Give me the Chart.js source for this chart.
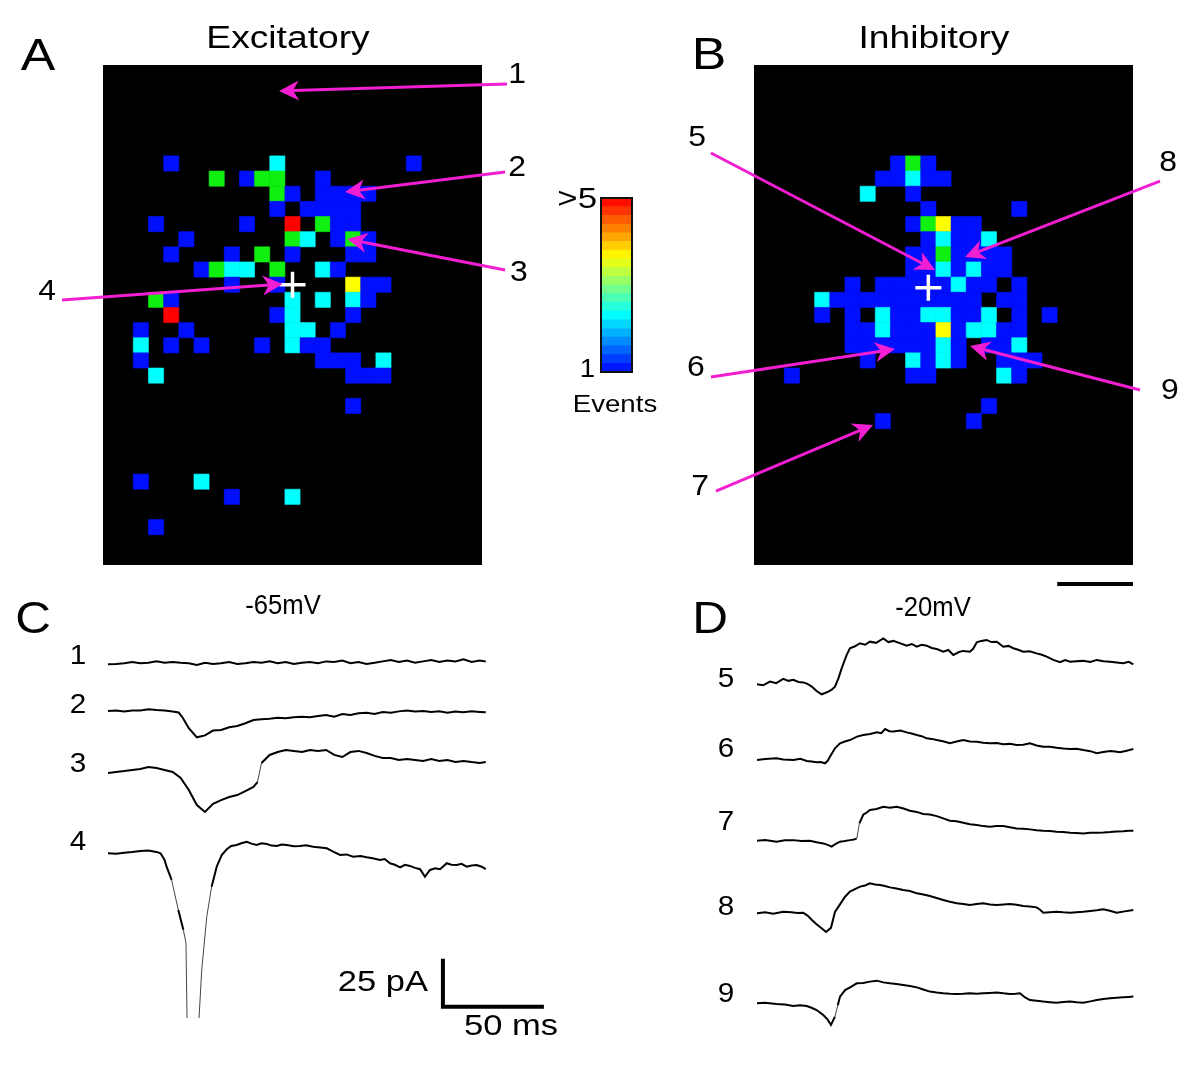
<!DOCTYPE html>
<html>
<head>
<meta charset="utf-8">
<script src="https://cdn.jsdelivr.net/npm/chart.js"></script>
<style>
    body { margin: 0; background: #fff; }
    #page { position: relative; width: 1200px; height: 1074px; overflow: hidden; }
    #page canvas { position: absolute; left: 0; top: 0; }
</style>
</head>
<body>
<div id="page">
    <canvas id="mapA" width="1200" height="1074"></canvas>
    <canvas id="mapB" width="1200" height="1074"></canvas>
    <canvas id="colorbar" width="1200" height="1074"></canvas>
    <canvas id="tracesC" width="1200" height="1074"></canvas>
    <canvas id="tracesD" width="1200" height="1074"></canvas>
</div>
<script>
// ---- Map data: [column, row, events] on a 25 x 33 grid ----
const excitatoryCells = [
    [4,6,1],[11,6,2],[20,6,1],
    [7,7,3],[9,7,1],[10,7,3],[11,7,3],[14,7,1],
    [11,8,3],[12,8,1],[14,8,1],[15,8,1],[16,8,1],[17,8,1],
    [11,9,1],[13,9,1],[14,9,1],[15,9,1],[16,9,1],
    [3,10,1],[9,10,1],[12,10,5],[14,10,3],[15,10,1],[16,10,1],
    [5,11,1],[12,11,3],[13,11,2],[15,11,1],[16,11,3],[17,11,1],
    [4,12,1],[8,12,1],[10,12,3],[12,12,1],[16,12,1],[17,12,1],
    [6,13,1],[7,13,3],[8,13,2],[9,13,2],[11,13,3],[14,13,2],[15,13,1],
    [8,14,1],[11,14,1],[16,14,4],[17,14,1],[18,14,1],
    [3,15,3],[4,15,1],[12,15,2],[14,15,2],[16,15,2],[17,15,1],
    [4,16,5],[11,16,1],[12,16,2],[16,16,1],
    [2,17,1],[5,17,1],[12,17,2],[13,17,2],[15,17,1],
    [2,18,2],[4,18,1],[6,18,1],[10,18,1],[12,18,2],[13,18,1],[14,18,1],
    [2,19,1],[14,19,1],[15,19,1],[16,19,1],[18,19,2],
    [3,20,2],[16,20,1],[17,20,1],[18,20,1],
    [16,22,1],
    [2,27,1],[6,27,2],
    [8,28,1],[12,28,2],
    [3,30,1]
];

const inhibitoryCells = [
    [9,6,1],[10,6,3],[11,6,1],
    [8,7,1],[9,7,1],[10,7,2],[11,7,1],[12,7,1],
    [7,8,2],[10,8,1],
    [11,9,1],[17,9,1],
    [10,10,1],[11,10,3],[12,10,4],[13,10,1],[14,10,1],
    [11,11,1],[12,11,2],[13,11,1],[14,11,1],[15,11,2],
    [10,12,1],[11,12,1],[12,12,3],[13,12,1],[14,12,1],[15,12,1],[16,12,1],
    [10,13,1],[11,13,1],[12,13,2],[13,13,1],[14,13,2],[15,13,1],[16,13,1],
    [6,14,1],[8,14,1],[9,14,1],[10,14,1],[11,14,1],[12,14,1],[13,14,2],[14,14,1],[15,14,1],[17,14,1],
    [4,15,2],[5,15,1],[6,15,1],[7,15,1],[8,15,1],[9,15,1],[10,15,1],[11,15,1],[12,15,1],[13,15,1],[14,15,1],[16,15,1],[17,15,1],
    [4,16,1],[6,16,1],[8,16,2],[9,16,1],[10,16,1],[11,16,2],[12,16,2],[13,16,1],[14,16,1],[15,16,2],[17,16,1],[19,16,1],
    [6,17,1],[7,17,1],[8,17,2],[9,17,1],[10,17,1],[11,17,1],[12,17,4],[13,17,1],[14,17,2],[15,17,2],[16,17,1],[17,17,1],
    [6,18,1],[7,18,1],[8,18,1],[9,18,1],[10,18,1],[11,18,1],[12,18,2],[13,18,1],[15,18,1],[16,18,1],[17,18,2],
    [7,19,1],[10,19,2],[11,19,1],[12,19,2],[13,19,1],[16,19,1],[17,19,1],[18,19,1],
    [2,20,1],[10,20,1],[11,20,1],[16,20,2],[17,20,1],
    [15,22,1],
    [8,23,1],[14,23,1]
];

// stimulation site (grid units)
const excitatoryCross = [12.5, 14.5];
const inhibitoryCross = [11.5, 14.7];

// arrows: [tailX, tailY, tipX, tipY, label, labelX, labelY] in grid units
const excitatoryArrows = [
    [26.65, 1.25, 11.61, 1.72, '1', 27.31, 0.66],
    [26.52, 7.06, 15.96, 8.38, '2', 27.31, 6.8],
    [26.52, 13.53, 16.11, 11.49, '3', 27.44, 13.73],
    [-2.70, 15.51, 11.85, 14.46, '4', -3.69, 14.98]
];
const inhibitoryArrows = [
    [-2.84, 5.81, 11.94, 13.53, '5', -3.76, 4.82],
    [26.78, 7.66, 13.92, 12.67, '8', 27.31, 6.47],
    [-2.84, 20.59, 9.30, 18.75, '6', -3.83, 20.0],
    [25.46, 21.45, 14.25, 18.55, '9', 27.44, 21.52],
    [-2.51, 28.12, 7.85, 23.76, '7', -3.56, 27.85]
];

// ---- Current traces: [time ms, current pA] ----
const trace1 = [[0,-0.5],[4,-0.3],[8,0],[12,0.7],[16,0],[20,0.3],[24,1.0],[28,0.3],[32,0.7],[36,0.3],[40,0],[44,-0.9],[48,0.3],[52,-0.3],[56,0],[60,0.7],[64,-0.3],[68,0],[72,0.7],[76,0.3],[80,1.0],[84,0],[88,0.7],[92,-0.3],[96,0.3],[100,0.7],[104,0],[108,1.0],[112,0.7],[116,1.4],[120,0],[124,0.7],[128,-0.3],[132,0.3],[136,1.0],[140,1.7],[144,0.7],[148,1.4],[152,0.3],[156,1.0],[160,1.7],[164,0.7],[168,1.4],[172,1.0],[176,2.1],[180,0.7],[184,1.4],[187,1.0]];
const trace2 = [[0,0],[4,0.2],[8,-0.2],[12,0.3],[16,0.2],[20,0.9],[24,0.5],[28,0.2],[32,-0.3],[35,-0.8],[37,-3.5],[40,-9.0],[44,-13.7],[48,-12.7],[52,-10.2],[56,-9.9],[60,-8.5],[64,-7.8],[68,-6.4],[72,-4.7],[76,-4.3],[80,-4.0],[84,-3.5],[88,-3.8],[92,-3.3],[96,-3.0],[100,-3.3],[104,-2.6],[108,-2.1],[112,-3.0],[116,-1.6],[120,-2.1],[124,-1.2],[128,-0.9],[132,-1.6],[136,-0.5],[140,-0.9],[144,-0.2],[148,0.2],[152,-0.3],[156,0],[160,-0.5],[164,-0.2],[168,-0.9],[172,-0.3],[176,-0.7],[180,-0.2],[184,-0.5],[187,-0.7]];
const trace3 = [[0,0],[4,0.5],[8,1.0],[12,1.6],[16,2.1],[20,3.1],[24,2.6],[28,1.6],[32,0.5],[36,-2.6],[40,-8.9],[44,-16.7],[48,-20.3],[52,-16.1],[56,-14.1],[60,-12.5],[64,-11.5],[68,-9.4],[72,-7.3],[74,-4.7],[76,5.2],[80,9.4],[84,10.9],[88,12.0],[92,11.5],[96,10.9],[100,12.0],[104,11.5],[108,12.0],[112,9.4],[116,8.3],[120,10.9],[124,11.5],[128,10.4],[132,8.9],[136,7.8],[140,7.8],[144,6.8],[148,7.3],[152,6.8],[156,6.3],[160,7.3],[164,6.3],[168,6.8],[172,5.7],[176,6.3],[180,5.7],[184,5.2],[187,5.7]];
const trace4 = [[0,0],[4,-0.3],[8,0.3],[12,0.7],[16,1.2],[20,1.4],[24,0.7],[26,0],[28,-3.5],[29,-7.0],[31.5,-13.9],[34.8,-29.5],[37.3,-39.9],[38.6,-46.7],[42,-300],[45,-87],[46.4,-60.8],[48.9,-33.0],[51.3,-17.4],[53.8,-7.0],[56.3,-0.9],[58.8,2.1],[61,3.8],[63.7,4.3],[66,5.2],[68.7,6.0],[71,5.0],[73.6,4.3],[76,5.2],[78.6,4.8],[81,4.0],[83.5,3.8],[86,4.6],[88.5,4.3],[92,3.6],[95,3.8],[98,4.2],[101.6,3.4],[105,3.0],[108.3,2.6],[111.5,0.8],[114.9,-0.9],[118,-0.6],[121.4,-1.8],[125,-1.4],[128,-2.1],[131,-2.6],[134.7,-3.5],[137,-3.0],[139.6,-5.2],[142,-6.0],[144.6,-7.3],[147,-6.0],[149.5,-6.6],[152,-7.6],[154.5,-8.3],[156.9,-12.2],[159.4,-8.7],[162,-7.8],[164.4,-8.3],[167.7,-5.2],[170,-6.0],[172.6,-6.1],[175,-5.5],[177.6,-7.0],[180,-6.4],[182.5,-6.1],[185,-7.0],[187,-8.3]];

const trace5 = [[0,0],[3,-0.5],[6.4,1.4],[9.5,0.6],[13,2.8],[15.5,1.8],[18,2.3],[20.5,1.2],[22.9,1.0],[25,0.2],[27.1,-1.2],[29.5,-3.5],[32,-5.2],[34,-4.4],[35.3,-3.8],[37,-2.8],[38.6,-1.2],[40.3,3.1],[41.9,8.3],[44.4,15.3],[46,18.8],[48.5,19.8],[51,21.4],[53.5,20.6],[55.9,22.2],[59,21.6],[62.5,23.9],[65,22.0],[67.5,22.6],[71,21.3],[74.1,20.1],[76.6,21.0],[79.1,19.6],[81.5,20.6],[84,20.1],[86.5,18.9],[89,18.4],[92.2,17.0],[94.7,17.9],[97.2,15.3],[100,16.8],[102,17.4],[105.4,17.0],[107,18.5],[108.8,21.9],[111,22.6],[113.7,23.1],[116,22.0],[118.7,22.2],[121.9,19.6],[124.5,20.0],[126.9,18.8],[129.3,18.0],[131.8,17.0],[135,17.2],[138.4,16.1],[141,15.4],[143.4,14.4],[146.7,12.7],[150,11.5],[152.5,12.6],[155,11.8],[158,12.0],[161.5,12.2],[165,11.6],[168.2,12.7],[171.5,12.0],[174.8,11.8],[178,11.4],[181.3,11.0],[184,11.7],[186.3,10.4]];
const trace6 = [[0,0],[4,0.5],[9.7,0.9],[13,0.3],[18,0],[21.5,0.6],[24.6,-0.5],[27,-0.8],[29.5,-1.2],[31.5,-1.0],[33.7,-1.7],[35,-0.4],[36.1,1.7],[38.6,6.1],[41.1,8.7],[43.5,9.6],[46,10.4],[49.5,12.2],[52.6,13.0],[56,13.6],[59.3,14.4],[61.5,14.0],[63.4,16.1],[65.5,15.0],[67.5,14.8],[71,15.3],[74.1,14.4],[76.5,13.8],[79.1,13.0],[81.5,12.4],[84,11.3],[86.5,11.0],[89,10.4],[92,9.8],[95.5,8.7],[98.8,9.6],[102.1,10.4],[105.4,9.7],[108.8,9.5],[112,9.0],[115.3,8.7],[118.6,8.9],[121.9,8.2],[125.2,8.4],[128.5,7.8],[131.8,8.0],[135.1,8.7],[138.4,7.6],[141.7,6.9],[145,6.9],[148.3,6.4],[151.6,6.0],[155,5.7],[158.2,5.9],[161.5,5.2],[165,4.6],[168.2,3.5],[171.5,4.2],[174.8,4.7],[177.2,4.4],[179.7,4.0],[183,4.8],[186.3,5.7]];
const trace7 = [[0,0],[4,0.4],[9.7,-0.5],[13.8,0.2],[18,0.3],[22,-0.2],[26.2,0],[29.5,-0.8],[32.8,-1.4],[35,-2.2],[37,-3.1],[39,-1.6],[41.1,-0.5],[43.5,-0.2],[46,0.3],[48,0.6],[49.4,1.2],[50.7,9.0],[52.6,13.5],[54.5,14.8],[55.9,16.0],[59.2,16.5],[62.5,17.7],[65.8,17.2],[69.2,17.7],[72.5,16.8],[75.7,15.6],[79,15.0],[82.3,13.9],[85.6,13.6],[89,12.8],[92.2,11.6],[95.5,10.4],[98.8,10.1],[102.1,9.4],[105.4,8.6],[108.8,8.2],[112,7.6],[115.3,7.3],[118.6,7.7],[121.9,7.6],[125.2,7.0],[128.5,6.4],[131.8,6.2],[135.1,5.9],[138.4,5.5],[141.7,5.2],[145,5.0],[148.3,4.7],[151.6,4.5],[155,4.2],[158.2,4.0],[161.5,3.8],[165,4.1],[168.2,4.2],[171.5,4.3],[174.8,4.5],[178,4.8],[181.3,4.9],[184,5.2],[186.3,5.2]];
const trace8 = [[0,0],[4,0.5],[8,-0.2],[13,0.8],[17,0.5],[20,0.1],[22.9,0.3],[25,-1.2],[27.2,-3.5],[29.2,-5.4],[31.2,-7.1],[34.2,-9.7],[36.6,-7.6],[38.6,0.7],[41,4.5],[43.5,8.5],[46,11.3],[48.5,12.6],[51,13.9],[53.5,14.5],[55.9,15.6],[58.4,15.0],[60.9,14.7],[63.3,14.2],[65.8,13.5],[69,12.9],[72.4,12.1],[75.7,11.6],[79.1,10.4],[82.3,9.8],[85.6,9.0],[88.9,8.0],[92.2,6.9],[95.5,6.0],[98.9,5.2],[102.1,4.9],[105.4,4.3],[108.7,4.8],[112,5.2],[115.3,4.6],[118.7,4.3],[122,4.6],[125.2,4.8],[128.5,4.4],[131.8,3.8],[135,3.6],[138.4,3.1],[140,2.0],[141.7,0.3],[145,0.6],[148.3,0.8],[151.6,0.5],[155,0.3],[158.2,0.6],[161.5,0.8],[165,1.2],[168.2,1.6],[171.4,2.1],[174.7,1.3],[178,0.3],[182,1.0],[186.3,1.7]];
const trace9 = [[0,0],[4,0.3],[9.7,-0.3],[13.8,-0.6],[18,-1.4],[21.3,-1.0],[24.6,-1.4],[27,-2.3],[29.5,-3.5],[32.8,-6.1],[35,-8.5],[36.6,-11.3],[38.6,-6.9],[40,-1.0],[41.1,3.5],[43.6,6.9],[46.5,8.6],[49.4,10.4],[52.6,10.6],[55.9,11.3],[59.3,11.8],[62.5,10.9],[65.8,10.4],[69,10.0],[72.4,9.5],[75.7,9.0],[79.1,8.3],[82.3,7.2],[85.6,6.1],[88.9,5.6],[92.2,5.2],[95.5,5.0],[98.9,4.9],[102.1,5.0],[105.4,5.2],[108.7,5.0],[112,5.2],[115.3,5.4],[118.7,5.6],[122,5.2],[125.2,4.9],[128,5.0],[130.2,5.2],[132.5,3.2],[135.1,1.7],[138.4,1.3],[141.7,0.9],[145,0.6],[148.3,0.3],[151.6,0.7],[155,0.9],[158.2,0.5],[161.5,0.3],[165,1.0],[168.2,1.7],[171.5,2.2],[174.8,2.6],[178,2.9],[181.3,3.1],[184,3.3],[186.3,3.5]];

const tracesC = [trace1, trace2, trace3, trace4];
const tracesD = [trace5, trace6, trace7, trace8, trace9];

// scale bars
const scaleBarMs = 50;
const scaleBarPA = 25;
const mapScaleBarCells = 5;

// ---- Layout & style ----
const FONT = '"Liberation Sans", Arial, Helvetica, sans-serif';
const eventColors = ['#0010ff', '#00ffff', '#10f010', '#ffff00', '#ff0000'];
const arrowColor = '#f21fd2';
const traceOffsetsC = [-12.14, -36.98, -69.27, -111.09];    // baseline position of each trace (pA units)
const traceOffsetsD = [-33.49, -72.92, -114.95, -152.76, -199.64];
const scaleBarCorner = { t: 165.8, y: -191.1 };

function drawText(ctx, str, x, y, size, align, sx) {
    ctx.save();
    ctx.font = size + 'px ' + FONT;
    ctx.textAlign = align || 'center';
    ctx.textBaseline = 'middle';
    ctx.fillStyle = '#000';
    ctx.translate(x, y);
    ctx.scale(sx || 1, 1);
    ctx.fillText(str, 0, 0);
    ctx.restore();
}

function drawArrow(ctx, x1, y1, x2, y2) {
    const dx = x2 - x1, dy = y2 - y1, len = Math.hypot(dx, dy);
    const ux = dx / len, uy = dy / len, nx = -uy, ny = ux;
    const L = 20, W = 10, inner = 14;
    ctx.save();
    ctx.strokeStyle = arrowColor;
    ctx.fillStyle = arrowColor;
    ctx.lineWidth = 3;
    ctx.beginPath();
    ctx.moveTo(x1, y1);
    ctx.lineTo(x2 - ux * inner, y2 - uy * inner);
    ctx.stroke();
    ctx.beginPath();
    ctx.moveTo(x2, y2);
    ctx.lineTo(x2 - ux * L + nx * W, y2 - uy * L + ny * W);
    ctx.lineTo(x2 - ux * inner, y2 - uy * inner);
    ctx.lineTo(x2 - ux * L - nx * W, y2 - uy * L - ny * W);
    ctx.closePath();
    ctx.fill();
    ctx.restore();
}

// black background for the maps
const blackBackground = {
    id: 'blackBackground',
    beforeDatasetsDraw(chart) {
        const { ctx, chartArea: a } = chart;
        ctx.save();
        ctx.fillStyle = '#000';
        ctx.fillRect(a.left, a.top, a.right - a.left, a.bottom - a.top);
        ctx.restore();
    }
};

// arrows + numbers, placed through the map scales
const mapArrows = {
    id: 'mapArrows',
    afterDraw(chart, args, opts) {
        const { ctx, scales: { x, y } } = chart;
        opts.arrows.forEach(a => {
            drawArrow(ctx, x.getPixelForValue(a[0]), y.getPixelForValue(a[1]),
                x.getPixelForValue(a[2]), y.getPixelForValue(a[3]));
            drawText(ctx, a[4], x.getPixelForValue(a[5]), y.getPixelForValue(a[6]), 29, 'center', 1.1);
        });
        opts.texts.forEach(t => drawText(ctx, t[0], t[1], t[2], t[3], 'center', t[4]));
    }
};

function cellSide(chart) {
    const s = chart.scales.x;
    return Math.abs(s.getPixelForValue(1) - s.getPixelForValue(0));
}

function mapConfig(cells, cross, arrows, padding, texts, extraDatasets) {
    const datasets = [
        {
            data: [{ x: cross[0], y: cross[1] }],
            pointStyle: 'cross',
            pointRadius: 13,
            pointBorderColor: '#fff',
            pointBorderWidth: 3.5,
            order: 1
        },
        {
            data: cells.map(c => ({ x: c[0] + 0.5, y: c[1] + 0.5, n: c[2] })),
            pointStyle: 'rect',
            pointRadius: ctx => cellSide(ctx.chart) / Math.SQRT2,
            pointBackgroundColor: ctx => eventColors[ctx.raw.n - 1],
            pointBorderColor: ctx => eventColors[ctx.raw.n - 1],
            pointBorderWidth: 0.6,
            order: 2
        }
    ].concat(extraDatasets || []);

    return {
        type: 'scatter',
        data: { datasets: datasets },
        options: {
            responsive: false,
            animation: false,
            events: [],
            layout: { padding: padding },
            scales: {
                x: { type: 'linear', min: 0, max: 25, display: false },
                y: { type: 'linear', min: 0, max: 33, reverse: true, display: false }
            },
            plugins: {
                legend: { display: false },
                tooltip: { enabled: false },
                mapArrows: { arrows: arrows, texts: texts }
            }
        },
        plugins: [blackBackground, mapArrows]
    };
}

// Panel A
new Chart(document.getElementById('mapA'), mapConfig(
    excitatoryCells, excitatoryCross, excitatoryArrows,
    { left: 103, top: 65, right: 718, bottom: 509 },
    [['A', 38, 58, 45, 1.15], ['Excitatory', 288, 39, 31, 1.2]]
));

// Panel B (with the distance scale bar under the map)
new Chart(document.getElementById('mapB'), mapConfig(
    inhibitoryCells, inhibitoryCross, inhibitoryArrows,
    { left: 754, top: 65, right: 67, bottom: 509 },
    [['B', 709, 57, 45, 1.15], ['Inhibitory', 934, 39, 31, 1.2]],
    [{
        data: [{ x: 25 - mapScaleBarCells, y: 34.26 }, { x: 25, y: 34.26 }],
        showLine: true,
        borderColor: '#000',
        borderWidth: 4,
        pointRadius: 0,
        clip: false,
        order: 0
    }]
));

// ---- Colour bar ----
function jet(v) {
    const c = t => Math.round(255 * Math.max(0, Math.min(1, 1.5 - Math.abs(t))));
    return 'rgb(' + c(4 * v - 3) + ',' + c(4 * v - 2) + ',' + c(4 * v - 1) + ')';
}
const colorbarSteps = 20;
const colorbarBands = [];
for (let i = 0; i < colorbarSteps; i++) {
    colorbarBands.push(jet(0.13 + 0.75 * (i + 0.5) / colorbarSteps));
}

new Chart(document.getElementById('colorbar'), {
    type: 'bar',
    data: {
        labels: ['Events'],
        datasets: colorbarBands.map(col => ({
            data: [1],
            backgroundColor: col,
            borderWidth: 0,
            barPercentage: 1,
            categoryPercentage: 1,
            stack: 'bar'
        }))
    },
    options: {
        responsive: false,
        animation: false,
        events: [],
        layout: { padding: { left: 601, top: 198, right: 568, bottom: 702 } },
        scales: {
            x: { stacked: true, display: false },
            y: { stacked: true, min: 0, max: colorbarSteps, display: false }
        },
        plugins: { legend: { display: false }, tooltip: { enabled: false } }
    },
    plugins: [{
        id: 'colorbarFrame',
        afterDraw(chart) {
            const { ctx, chartArea: a } = chart;
            ctx.save();
            ctx.strokeStyle = '#111';
            ctx.lineWidth = 2;
            ctx.strokeRect(a.left, a.top, a.right - a.left, a.bottom - a.top);
            ctx.restore();
            drawText(ctx, '>5', 597, 200, 29, 'right', 1.2);
            drawText(ctx, '1', 595, 370, 25, 'right', 1.1);
            drawText(ctx, 'Events', 615, 406, 23, 'center', 1.2);
        }
    }]
});

// ---- Traces ----
function steepSegment(ctx) {
    const dy = Math.abs(ctx.p1.y - ctx.p0.y), dx = Math.abs(ctx.p1.x - ctx.p0.x);
    return dy > 4 * Math.max(dx, 0.5);
}

function traceDatasets(traces, offsets) {
    return traces.map((tr, i) => ({
        data: tr.map(p => ({ x: p[0], y: p[1] + offsets[i] })),
        borderColor: '#000',
        borderWidth: 2,
        pointRadius: 0,
        tension: 0,
        segment: {
            borderWidth: ctx => steepSegment(ctx) ? 1 : undefined,
            borderColor: ctx => steepSegment(ctx) ? '#444' : undefined
        }
    }));
}

function traceConfig(datasets, padding, xMax, yMin, texts) {
    return {
        type: 'line',
        data: { datasets: datasets },
        options: {
            responsive: false,
            animation: false,
            events: [],
            layout: { padding: padding },
            scales: {
                x: { type: 'linear', min: 0, max: xMax, display: false },
                y: { type: 'linear', min: yMin, max: 0, display: false }
            },
            plugins: { legend: { display: false }, tooltip: { enabled: false } }
        },
        plugins: [{
            id: 'traceLabels',
            afterDraw(chart) {
                texts.forEach(t => drawText(chart.ctx, t[0], t[1], t[2], t[3], t[4] || 'center', t[5]));
            }
        }]
    };
}

// Panel C with the 25 pA / 50 ms scale bar
const scaleBarData = [
    { x: scaleBarCorner.t, y: scaleBarCorner.y + scaleBarPA },
    { x: scaleBarCorner.t, y: scaleBarCorner.y },
    { x: scaleBarCorner.t + scaleBarMs, y: scaleBarCorner.y }
];
new Chart(document.getElementById('tracesC'), traceConfig(
    traceDatasets(tracesC, traceOffsetsC).concat([{
        data: scaleBarData,
        borderColor: '#000',
        borderWidth: 4,
        pointRadius: 0,
        borderJoinStyle: 'miter',
        borderCapStyle: 'butt'
    }]),
    { left: 108, top: 640, right: 640, bottom: 56 },
    223.76, -196.9,
    [
        ['C', 33, 621, 45, 'center', 1.1],
        ['-65mV', 283, 607, 27, 'center', 0.95],
        ['1', 78, 657, 27, 'center', 1.1],
        ['2', 78, 706, 27, 'center', 1.1],
        ['3', 78, 765, 27, 'center', 1.1],
        ['4', 78, 843, 27, 'center', 1.1],
        ['25 pA', 428, 983, 30, 'right', 1.15],
        ['50 ms', 511, 1027, 30, 'center', 1.15]
    ]
));

// Panel D
new Chart(document.getElementById('tracesD'), traceConfig(
    traceDatasets(tracesD, traceOffsetsD),
    { left: 757, top: 620, right: 20, bottom: 34 },
    209.4, -218.75,
    [
        ['D', 710, 621, 45, 'center', 1.1],
        ['-20mV', 933, 609, 27, 'center', 0.95],
        ['5', 726, 680, 27, 'center', 1.1],
        ['6', 726, 750, 27, 'center', 1.1],
        ['7', 726, 823, 27, 'center', 1.1],
        ['8', 726, 908, 27, 'center', 1.1],
        ['9', 726, 995, 27, 'center', 1.1]
    ]
));
</script>
</body>
</html>
